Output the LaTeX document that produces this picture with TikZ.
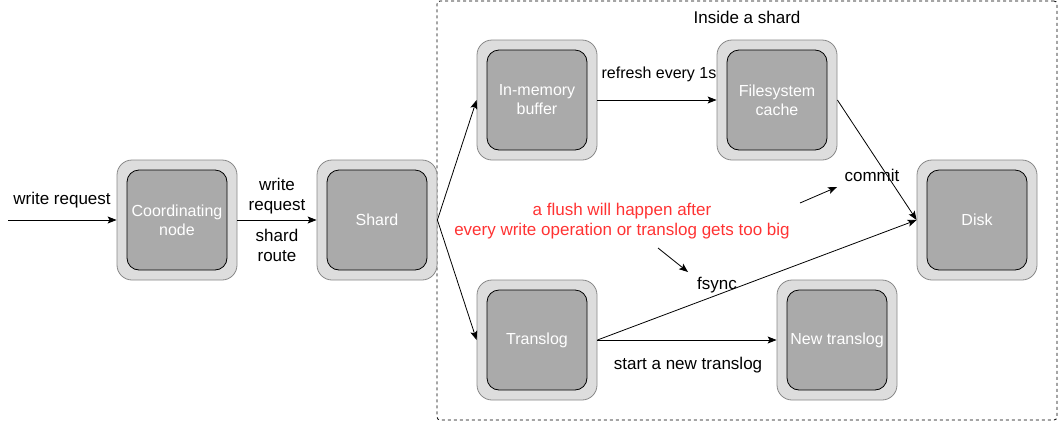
\documentclass[tikz,border=0pt]{standalone}
\usepackage{fontspec}
\setmainfont{Liberation Sans}
\usetikzlibrary{arrows.meta}
\definecolor{outerfill}{HTML}{DDDDDD}
\definecolor{innerfill}{HTML}{AAAAAA}
\definecolor{outerline}{HTML}{888888}
\definecolor{flushred}{HTML}{FF3333}
\tikzstyle{shell}=[draw=outerline,fill=outerfill,rounded corners=15pt,minimum size=120pt,inner sep=0pt]
\tikzstyle{core}=[draw=black,fill=innerfill,rounded corners=12pt,minimum size=100pt,inner sep=0pt,text=white,align=center,font=\fontsize{16}{19}\selectfont]
\tikzstyle{txt}=[align=center,inner sep=1pt,font=\fontsize{17}{20}\selectfont]

\tikzstyle{line}=[draw,-{Stealth[length=9pt,width=7pt,inset=2pt]}]

\begin{document}
\begin{tikzpicture}[x=1pt,y=-1pt,line width=0.8pt]
  \useasboundingbox (0,0) rectangle (1058,421);

  % dashed shard area
  \node[draw,dashed,dash pattern=on 3pt off 3pt,rounded corners=3pt,minimum width=620pt,minimum height=419pt,inner sep=0pt] (inside) at (747,210.5) {};
  \node[txt] (insidelabel) at (747,17) {Inside a shard};

  % boxes
  \node[shell] (coord) at (177,220) {};
  \node[core] (coordin) at (177,220) {Coordinating\\node};
  \node[shell] (shard) at (377,220) {};
  \node[core] (shardin) at (377,220) {Shard};
  \node[shell] (buffer) at (537,100) {};
  \node[core] (bufferin) at (537,100) {In-memory\\buffer};
  \node[shell] (fscache) at (777,100) {};
  \node[core] (fscachein) at (777,100) {Filesystem\\cache};
  \node[shell] (disk) at (977,220) {};
  \node[core] (diskin) at (977,220) {Disk};
  \node[shell] (translog) at (537,340) {};
  \node[core] (translogin) at (537,340) {Translog};
  \node[shell] (newlog) at (837,340) {};
  \node[core] (newlogin) at (837,340) {New translog};

  % connectors
  \coordinate (wstart) at (8,220);
  \path[line] (wstart) -- (coord);
  \path[line] (coord) -- (shard);
  \path[line] (shard.east) -- (buffer.west);
  \path[line] (shard.east) -- (translog.west);
  \path[line] (buffer) -- (fscache);
  \path[line] (fscache.east) -- (disk.west);
  \path[line] (translog.east) -- (disk.west);
  \path[line] (translog) -- (newlog);

  % texts
  \node[txt] (wreq) at (62,200) {write request};
  \node[txt] (wreq2) at (277,196) {write\\request};
  \node[txt] (route) at (277,245) {shard\\route};
  \node[txt,font=\fontsize{16}{19}\selectfont] (refresh) at (659,74) {refresh every 1s};
  \node[txt] (newlogtxt) at (688,365) {start a new translog};
  \node[txt] (commit) at (872,175) {commit};
  \node[txt] (fsync) at (717,285) {fsync};
  \node[txt,text=flushred] (flush) at (622,221) {a flush will happen after\\every write operation or translog gets too big};

  % hint arrows
  \coordinate (c1) at (800,203);
  \coordinate (c2) at (837,187);
  \path[line] (c1) -- (c2);
  \coordinate (f1) at (658,248);
  \coordinate (f2) at (688,272);
  \path[line] (f1) -- (f2);
\end{tikzpicture}
\end{document}
